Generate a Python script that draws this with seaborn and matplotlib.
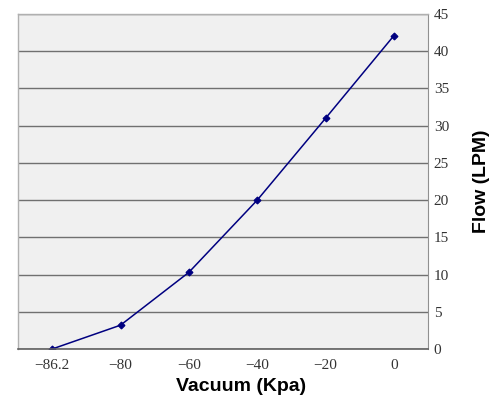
import numpy as np
import pandas as pd
import matplotlib
matplotlib.use("Agg")
import matplotlib.pyplot as plt
import seaborn as sns

# Data
vacuum_labels = ["\u221286.2", "\u221280", "\u221260", "\u221240", "\u221220", "0"]
flow_lpm = [0.0, 3.2, 10.3, 20.0, 31.0, 42.1]
y_ticks = [0, 5, 10, 15, 20, 25, 30, 35, 40, 45]

df = pd.DataFrame({"vacuum": vacuum_labels, "flow": flow_lpm})

sns.set_style("white")
plt.rcParams["font.family"] = ["Liberation Serif", "DejaVu Serif"]

fig = plt.figure(figsize=(4.99, 4.00), dpi=100)
ax = fig.add_axes([0.036, 0.1275, 0.822, 0.8375])
ax.set_facecolor("#f0f0f0")

sns.pointplot(
    data=df, x="vacuum", y="flow", order=vacuum_labels,
    color="#000080", markers="D", markersize=3.5, linewidth=1.1, ax=ax
)

ax.set_xlim(-0.5, len(vacuum_labels) - 0.5)
ax.set_ylim(0, 45)
ax.set_yticks(y_ticks)
ax.yaxis.tick_right()
ax.yaxis.set_label_position("right")
ax.grid(axis="y", color="#707070", linewidth=1.0)
ax.set_axisbelow(True)

# tick marks sit between categories, pointing inward
ax.set_xticks(np.arange(len(vacuum_labels)) + 0.5, minor=True)
ax.tick_params(axis="x", which="major", length=0, pad=7, labelsize=11, labelcolor="#333333")
ax.tick_params(axis="x", which="minor", length=4, direction="in", color="#808080", width=1)
ax.tick_params(axis="y", which="major", length=0, pad=4, labelsize=11, labelcolor="#333333")

for side in ["left", "top"]:
    ax.spines[side].set_color("#b0b0b0")
    ax.spines[side].set_linewidth(1.0)
ax.spines["right"].set_color("#909090")
ax.spines["bottom"].set_color("#606060")
ax.spines["bottom"].set_linewidth(1.2)

ax.set_xlabel("Vacuum (Kpa)", family=["Liberation Sans", "DejaVu Sans"],
              fontsize=14, fontweight="bold", color="black")
ax.xaxis.set_label_coords(0.545, -0.088)
ax.set_ylabel("Flow (LPM)", family=["Liberation Sans", "DejaVu Sans"],
              fontsize=14, fontweight="bold", labelpad=17, rotation=90, color="black")

fig.savefig("out.png", dpi=100)
